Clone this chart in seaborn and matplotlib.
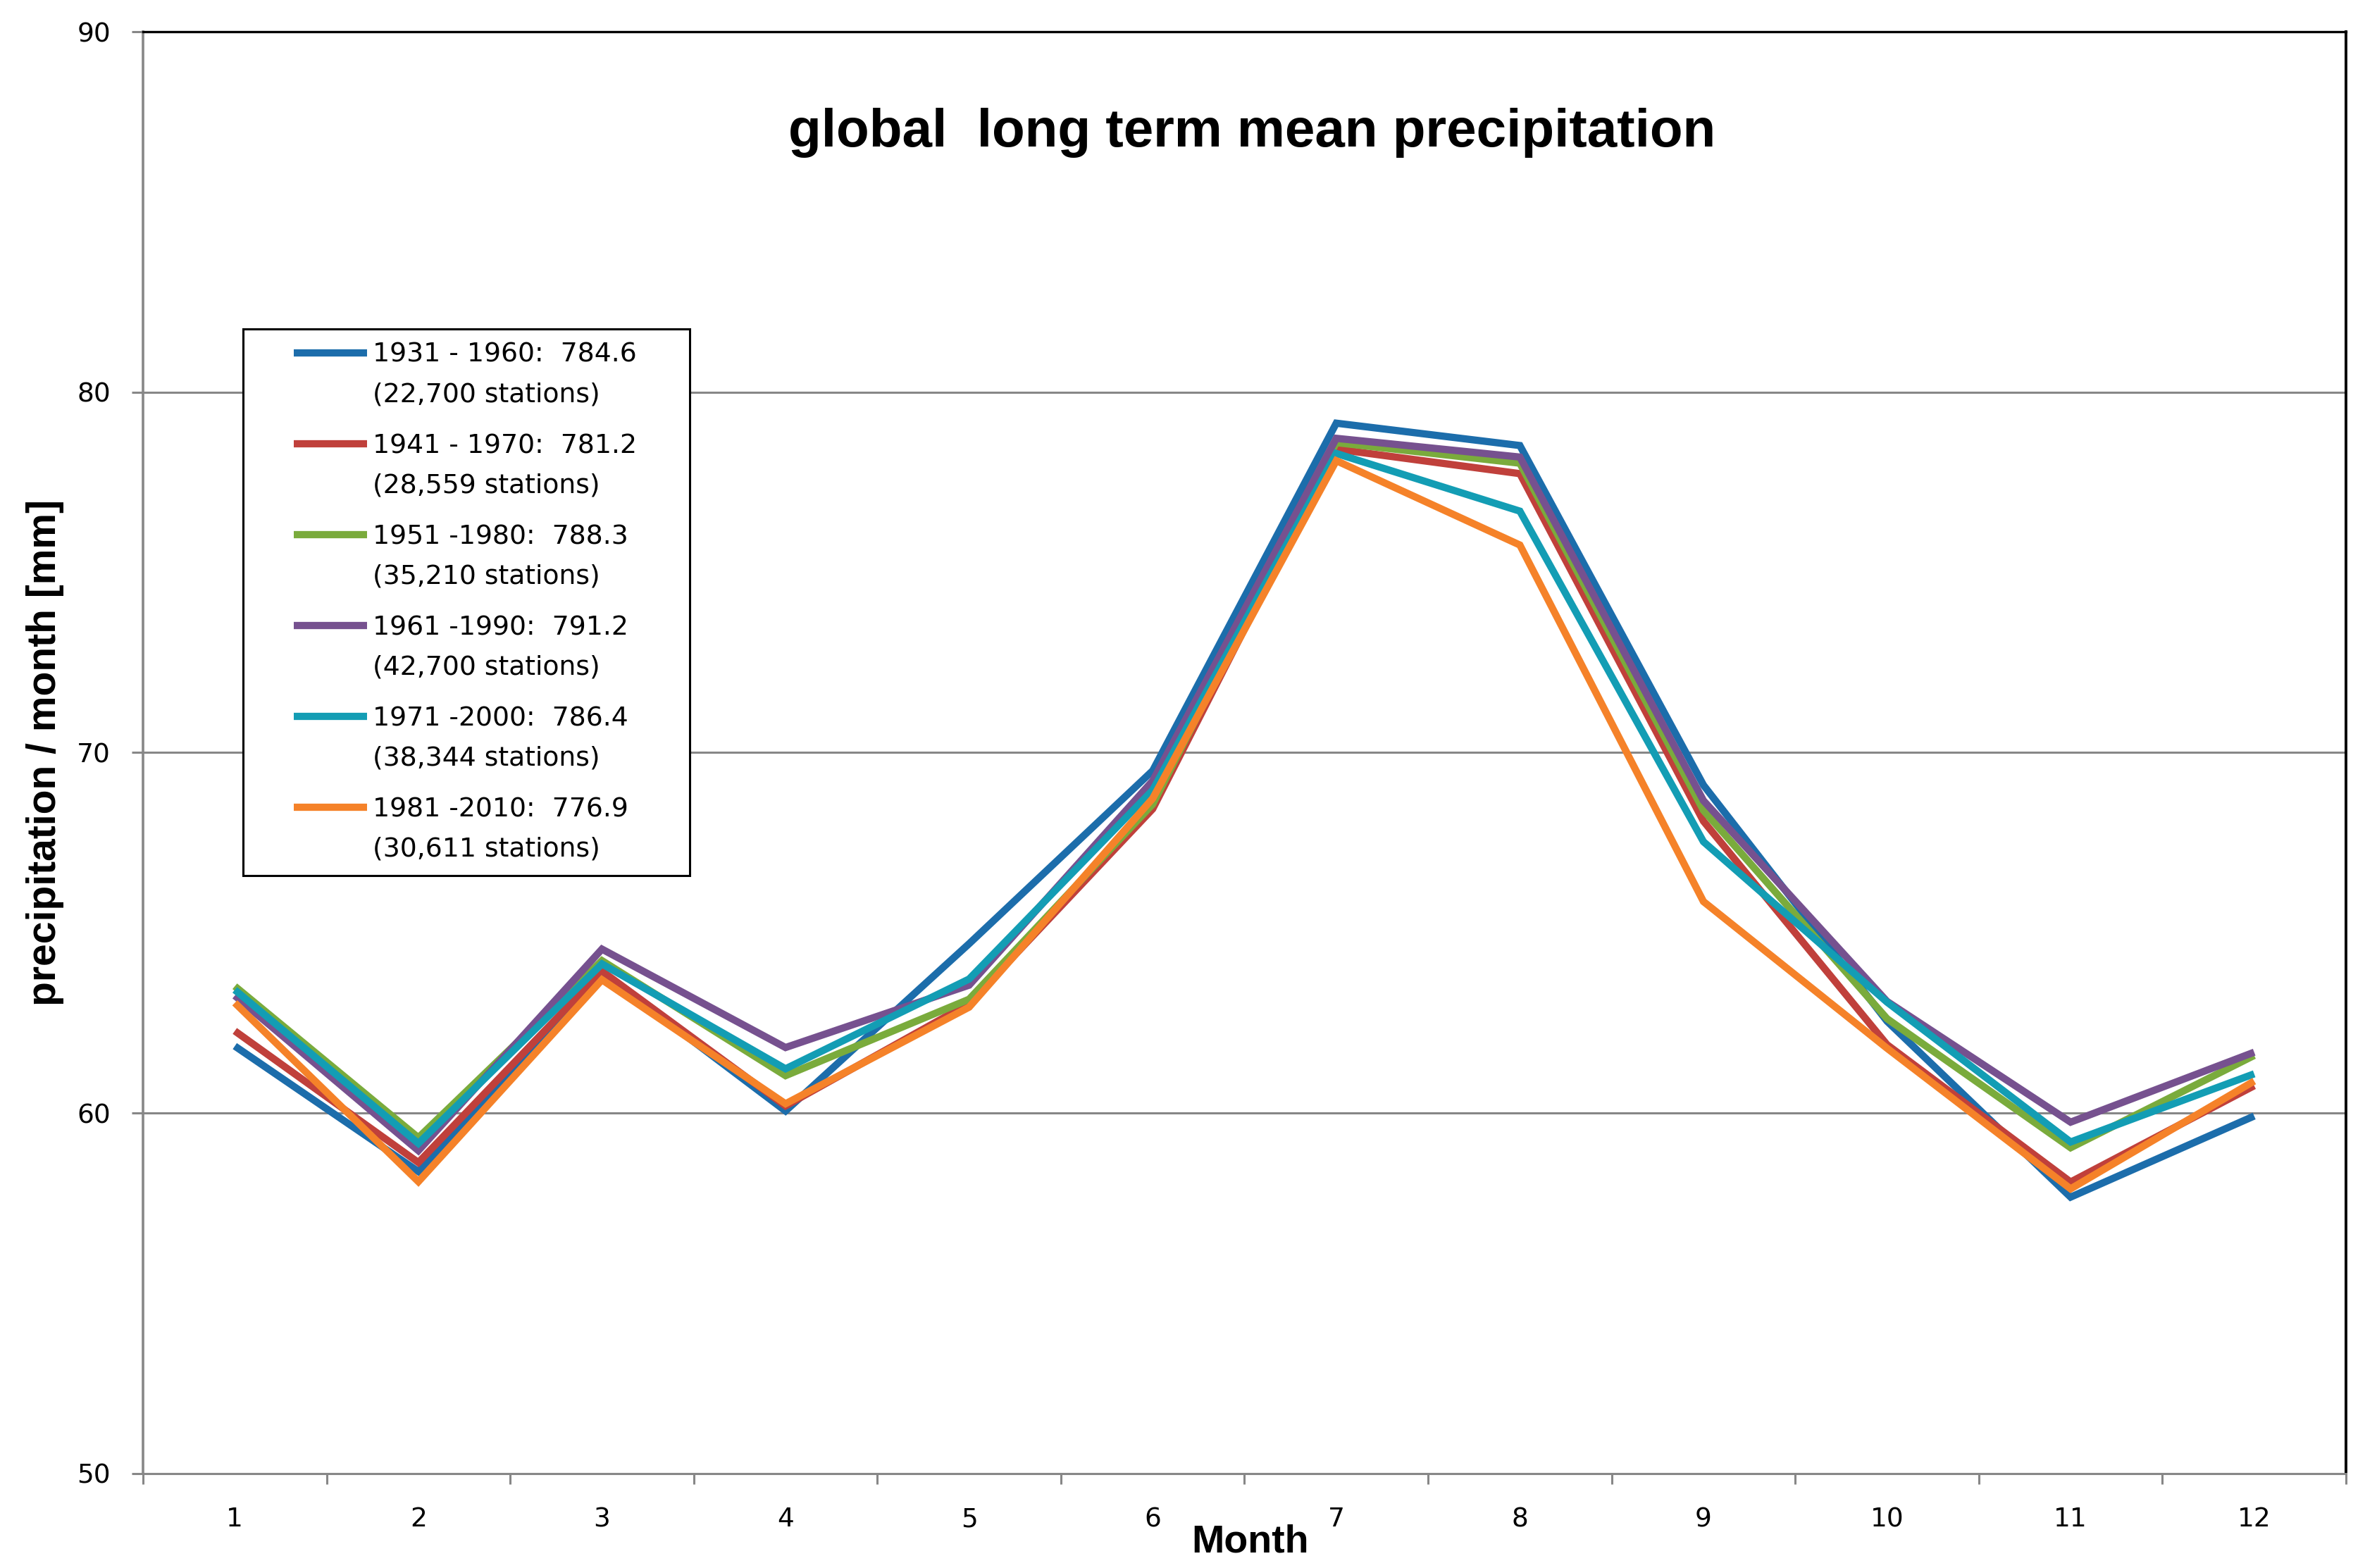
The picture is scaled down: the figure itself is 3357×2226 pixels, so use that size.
import matplotlib
matplotlib.use("Agg")
import matplotlib.pyplot as plt
import seaborn as sns
import pandas as pd
import numpy as np
from matplotlib.lines import Line2D
from matplotlib.legend_handler import HandlerBase

# ---------------- data ----------------
months = list(range(1, 13))
periods = ["1931-1960", "1941-1970", "1951-1980", "1961-1990", "1971-2000", "1981-2010"]
legend_labels = [
    "1931 - 1960:  784.6\n(22,700 stations)",
    "1941 - 1970:  781.2\n(28,559 stations)",
    "1951 -1980:  788.3\n(35,210 stations)",
    "1961 -1990:  791.2\n(42,700 stations)",
    "1971 -2000:  786.4\n(38,344 stations)",
    "1981 -2010:  776.9\n(30,611 stations)",
]
p1931 = [61.86, 58.38, 63.90, 60.06, 64.70, 69.50, 79.14, 78.52, 69.10, 62.55, 57.67, 59.92]
p1941 = [62.28, 58.63, 63.94, 60.20, 63.04, 68.44, 78.42, 77.74, 68.10, 61.90, 58.09, 60.76]
p1951 = [63.52, 59.32, 64.23, 61.04, 63.16, 68.57, 78.60, 78.03, 68.40, 62.62, 59.04, 61.60]
p1961 = [63.26, 58.96, 64.55, 61.82, 63.55, 69.22, 78.72, 78.20, 68.67, 63.10, 59.75, 61.69]
p1971 = [63.42, 59.16, 64.14, 61.23, 63.72, 68.96, 78.30, 76.70, 67.53, 63.08, 59.20, 61.09]
p1981 = [63.06, 58.10, 63.70, 60.26, 62.94, 68.73, 78.10, 75.76, 65.87, 61.80, 57.90, 60.89]
yticks = [50, 60, 70, 80, 90]

colors = ["#1C6DAB", "#C0403B", "#7AAB3C", "#76518F", "#139DB4", "#F58229"]

series = [p1931, p1941, p1951, p1961, p1971, p1981]
df = pd.DataFrame({
    "month": months * len(periods),
    "value": [v for s in series for v in s],
    "period": [p for p in periods for _ in months],
})

# ---------------- style ----------------
sns.set_theme(style="white")
plt.rcParams["font.family"] = ["DejaVu Sans"]
plt.rcParams["text.color"] = "black"
plt.rcParams["axes.labelcolor"] = "black"
plt.rcParams["xtick.color"] = "black"
plt.rcParams["ytick.color"] = "black"

W, H = 3357, 2226
fig = plt.figure(figsize=(W / 200, H / 200), dpi=200)
fig.patch.set_facecolor("white")
ax_l, ax_r, ax_t, ax_b = 203, 3330, 45, 2092
ax = fig.add_axes([ax_l / W, 1 - ax_b / H, (ax_r - ax_l) / W, (ax_b - ax_t) / H])
ax.set_facecolor("white")

sns.lineplot(data=df, x="month", y="value", hue="period", hue_order=periods,
             palette=colors, linewidth=3.7, legend=False, errorbar=None, ax=ax,
             solid_joinstyle="miter", solid_capstyle="butt")

grey = "#878787"
ax.set_xlim(0.5, 12.5)
ax.set_ylim(50, 90)
ax.set_xticks(months)
ax.set_xticklabels([str(m) for m in months])
ax.set_xticks(np.arange(0.5, 13.0, 1.0), minor=True)
ax.set_yticks(yticks)
ax.set_yticklabels([str(v) for v in yticks])

ax.tick_params(axis="x", which="major", length=0, pad=17, labelsize=13.5,
               labelcolor="black", bottom=True)
ax.tick_params(axis="x", which="minor", length=5.4, width=1.1, color=grey,
               direction="out", bottom=True)
ax.tick_params(axis="y", which="major", length=5.8, width=1.1, color=grey,
               direction="out", pad=10.8, labelsize=13.5, labelcolor="black", left=True)

ax.yaxis.grid(True, color=grey, linewidth=1.1)
ax.xaxis.grid(False)
ax.set_axisbelow(True)
ax.set_xlabel("")
ax.set_ylabel("")

ax.spines["left"].set_color(grey)
ax.spines["left"].set_linewidth(1.3)
ax.spines["bottom"].set_color(grey)
ax.spines["bottom"].set_linewidth(1.1)
ax.spines["top"].set_color("black")
ax.spines["top"].set_linewidth(1.2)
ax.spines["right"].set_color("black")
ax.spines["right"].set_linewidth(1.4)
for s in ax.spines.values():
    s.set_visible(True)

# ---------------- texts ----------------
fig.text(1777 / W, 1 - 208 / H, "global  long term mean precipitation",
         ha="center", va="baseline", fontsize=27.5, fontweight="bold",
         family="Liberation Sans", color="black")
fig.text(64 / W, 1 - 1068 / H, "precipitation / month [mm]", rotation=90,
         ha="center", va="center", fontsize=20.5, fontweight="bold",
         family="Liberation Sans", color="black")
fig.text(1775 / W, 1 - 2203 / H, "Month", ha="center", va="baseline",
         fontsize=20, fontweight="bold", family="Liberation Sans", color="black")


# ---------------- legend ----------------
class FirstLineHandler(HandlerBase):
    def __init__(self, start_frac, dy):
        super().__init__()
        self.start_frac = start_frac
        self.dy = dy

    def create_artists(self, legend, orig_handle, xdescent, ydescent, width,
                       height, fontsize, trans):
        y = height / 2 - ydescent + self.dy
        x0 = -xdescent + self.start_frac * width
        x1 = -xdescent + width
        line = Line2D([x0, x1], [y, y], color=orig_handle.get_color(),
                      linewidth=orig_handle.get_linewidth(),
                      solid_capstyle="butt", transform=trans)
        return [line]


handles = list(ax.lines[:len(periods)])
leg = ax.legend(handles, legend_labels, loc="upper left",
                bbox_to_anchor=(345 / W, 1 - 1240 / H, 634 / W, 773 / H),
                bbox_transform=fig.transFigure, mode="expand", borderaxespad=0,
                borderpad=0.5, handlelength=4.17, handletextpad=0.19,
                labelspacing=0.98, frameon=True, fancybox=False, shadow=False,
                framealpha=1, edgecolor="black",
                prop={"family": "DejaVu Sans", "size": 13.6},
                handler_map={Line2D: FirstLineHandler(0.335, 11.6)})
leg.get_frame().set_linewidth(1.1)
for t in leg.get_texts():
    t.set_linespacing(1.72)
    t.set_color("black")

fig.savefig("out.png", dpi=200, facecolor="white")
